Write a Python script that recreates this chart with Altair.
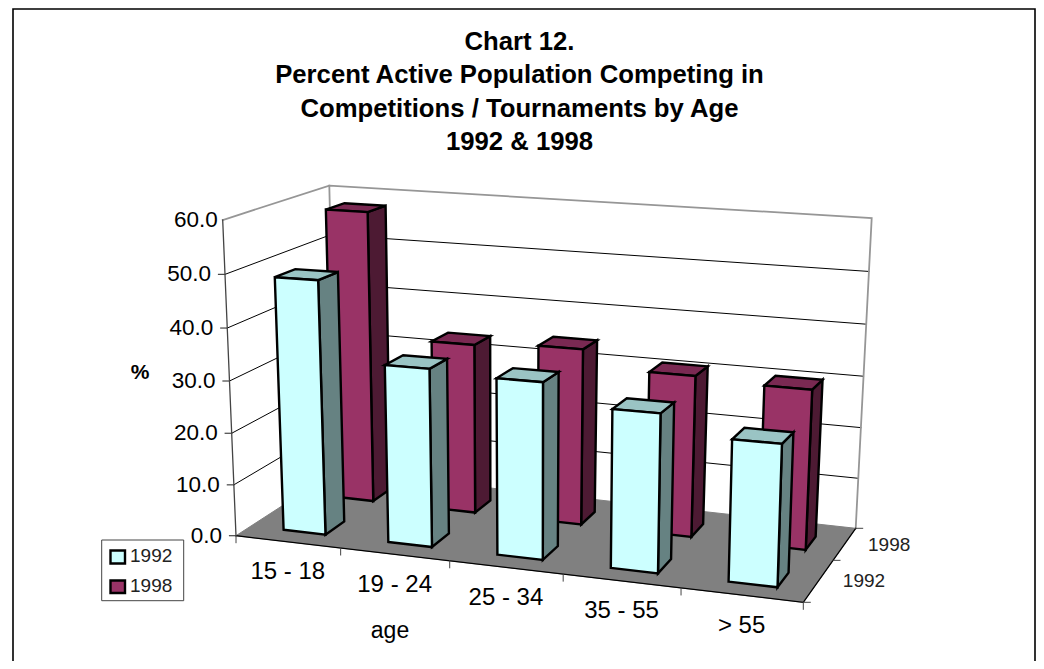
import altair as alt
import pandas as pd

categories = ["15 - 18", "19 - 24", "25 - 34", "35 - 55", "> 55"]
series = ["1992", "1998"]
values_1992 = [48.8, 33.9, 33.2, 29.4, 25.9]
values_1998 = [58.0, 33.6, 34.5, 31.2, 30.5]
y_ticks = [0, 10, 20, 30, 40, 50, 60]
title_lines = ["Chart 12.", "Percent Active Population Competing in",
               "Competitions / Tournaments by Age", "1992 & 1998"]

W, H = 1028, 653
FONT = "Liberation Sans"

# corners of the projected box (screen pixels): (u, depth, top)
C = {
    (0, 0, 0): (236, 535.7), (1, 0, 0): (803.3, 602.3),
    (0, 1, 0): (336, 471), (1, 1, 0): (855.7, 528.3),
    (0, 0, 1): (222.7, 220), (1, 0, 1): (814.5, 255),
    (0, 1, 1): (329.3, 185.7), (1, 1, 1): (871.7, 218),
}


def P(u, t, h):
    """Project category position u, depth t and value h on to the screen."""
    g = u * (0.903 + 0.097 * u)
    f = h / 60 * (0.96 + 0.04 * h / 60)
    x = y = 0
    for (a, b, c), (px, py) in C.items():
        w = (g if a else 1 - g) * (t if b else 1 - t) * (f if c else 1 - f)
        x += w * px
        y += w * py
    return x, y


sx = alt.Scale(domain=[8, 8 + W], nice=False, zero=False)
sy = alt.Scale(domain=[8 + H, 8], nice=False, zero=False)
enc = dict(x=alt.X("x:Q", scale=sx, axis=None), y=alt.Y("y:Q", scale=sy, axis=None))
layers = []


def poly(points, fill, stroke="#000000", width=2.4):
    df = pd.DataFrame({"x": [p[0] for p in points], "y": [p[1] for p in points],
                       "i": list(range(len(points)))})
    layers.append(alt.Chart(df).mark_line(
        interpolate="linear-closed", fill=fill, stroke=stroke, strokeWidth=width,
        strokeJoin="miter", clip=False).encode(order="i:Q", **enc))


def line(points, stroke, width=1.0):
    df = pd.DataFrame({"x": [p[0] for p in points], "y": [p[1] for p in points],
                       "i": list(range(len(points)))})
    layers.append(alt.Chart(df).mark_line(stroke=stroke, strokeWidth=width,
                                          strokeCap="square").encode(order="i:Q", **enc))


def text(s, x, y, size, align="center", weight="normal", color="#000000"):
    df = pd.DataFrame({"x": [x], "y": [y], "s": [s]})
    layers.append(alt.Chart(df).mark_text(
        font=FONT, fontSize=size, align=align, baseline="middle", fontWeight=weight,
        color=color).encode(text="s:N", **enc))


# outer frame
line([(13, 680), (13, 9), (1035, 9), (1035, 680)], "#000000", 1.6)

# floor
poly([P(0, 0, 0), P(1, 0, 0), P(1, 1, 0), P(0, 1, 0)], "#808080", "#808080", 1)

# gridlines on the walls
for v in y_ticks[1:-1]:
    line([P(0, 0, v), P(0, 1, v), P(1, 1, v)], "#000000", 1)

# wall outline
line([P(0, 0, 60), P(0, 1, 60), P(1, 1, 60), P(1, 1, 0)], "#969696", 1.8)
line([P(0, 1, 60), P(0, 1, 0)], "#969696", 1.8)
line([P(0, 0, 60), P(0, 0, 0)], "#444444", 1.3)

# axis edges and ticks
line([P(0, 0, 0), P(1, 0, 0), P(1, 1, 0)], "#000000", 1.3)
for v in y_ticks[:-1]:
    x0, y0 = P(0, 0, v)
    line([(x0 - 6.5, y0), (x0, y0)], "#444444", 1.2)
for i in range(len(categories) + 1):
    x0, y0 = P(i / len(categories), 0, 0)
    line([(x0, y0), (x0, y0 + 7)], "#444444", 1)
for t in [0, 0.567, 1]:
    x0, y0 = P(1, t, 0)
    line([(x0, y0), (x0 + 7, y0)], "#444444", 1)

BAR_U = (0.32, 0.725)
ROWS = {"1998": ((0.66, 0.84), "#993366", "#7A2952", "#4D1A33", values_1998),
        "1992": ((0.15, 0.35), "#CCFFFF", "#9AC4C4", "#668282", values_1992)}


def bar(k, row):
    (t0, t1), front, top, side, vals = ROWS[row]
    n = len(categories)
    u0, u1 = (k + BAR_U[0]) / n, (k + BAR_U[1]) / n
    v = vals[k]
    poly([P(u1, t0, 0), P(u1, t1, 0), P(u1, t1, v), P(u1, t0, v)], side)
    poly([P(u0, t0, v), P(u1, t0, v), P(u1, t1, v), P(u0, t1, v)], top)
    poly([P(u0, t0, 0), P(u1, t0, 0), P(u1, t0, v), P(u0, t0, v)], front)


# painter's order: back row first, left to right
for row in ["1998", "1992"]:
    for k in range(len(categories)):
        bar(k, row)

# value labels
for v in y_ticks:
    x0, y0 = P(0, 0, v)
    text(f"{v:.1f}", x0 - (5 if v == 60 else 14), y0, 22.5, "right")

# category labels
for k, c in enumerate(categories):
    x0, y0 = P((k + 0.5) / len(categories), 0, 0)
    text(c, x0, y0 + 30.5, 24)

# depth labels
x0, y0 = P(1, 0.28, 0)
text(series[0], x0 + 46, y0 - 1, 19, color="#222222")
x0, y0 = P(1, 0.78, 0)
text(series[1], x0 + 45, y0, 19, color="#222222")

text("age", 390, 631, 23)
text("%", 140, 373, 21, weight="bold")

# title
for t, yy in zip(title_lines, [42, 75.3, 108.5, 141.7]):
    text(t, 519.5, yy, 25.7, weight="bold")

# legend
poly([(101.7, 540), (183.7, 540), (183.7, 600.7), (101.7, 600.7)], "#FFFFFF", "#444444", 1)
poly([(110.5, 550.5), (125, 550.5), (125, 563.5), (110.5, 563.5)], "#CCFFFF")
poly([(110.5, 580.5), (125, 580.5), (125, 593), (110.5, 593)], "#993366")
text(series[0], 130, 556, 19, "left", color="#222222")
text(series[1], 130, 586, 19, "left", color="#222222")

chart = alt.layer(*layers).properties(
    width=W, height=H, padding=0, autosize=alt.AutoSizeParams(type="none"),
    background="#FFFFFF",
).configure_view(stroke=None)

chart.save("out.html", embed_options={"renderer": "svg", "actions": False})
